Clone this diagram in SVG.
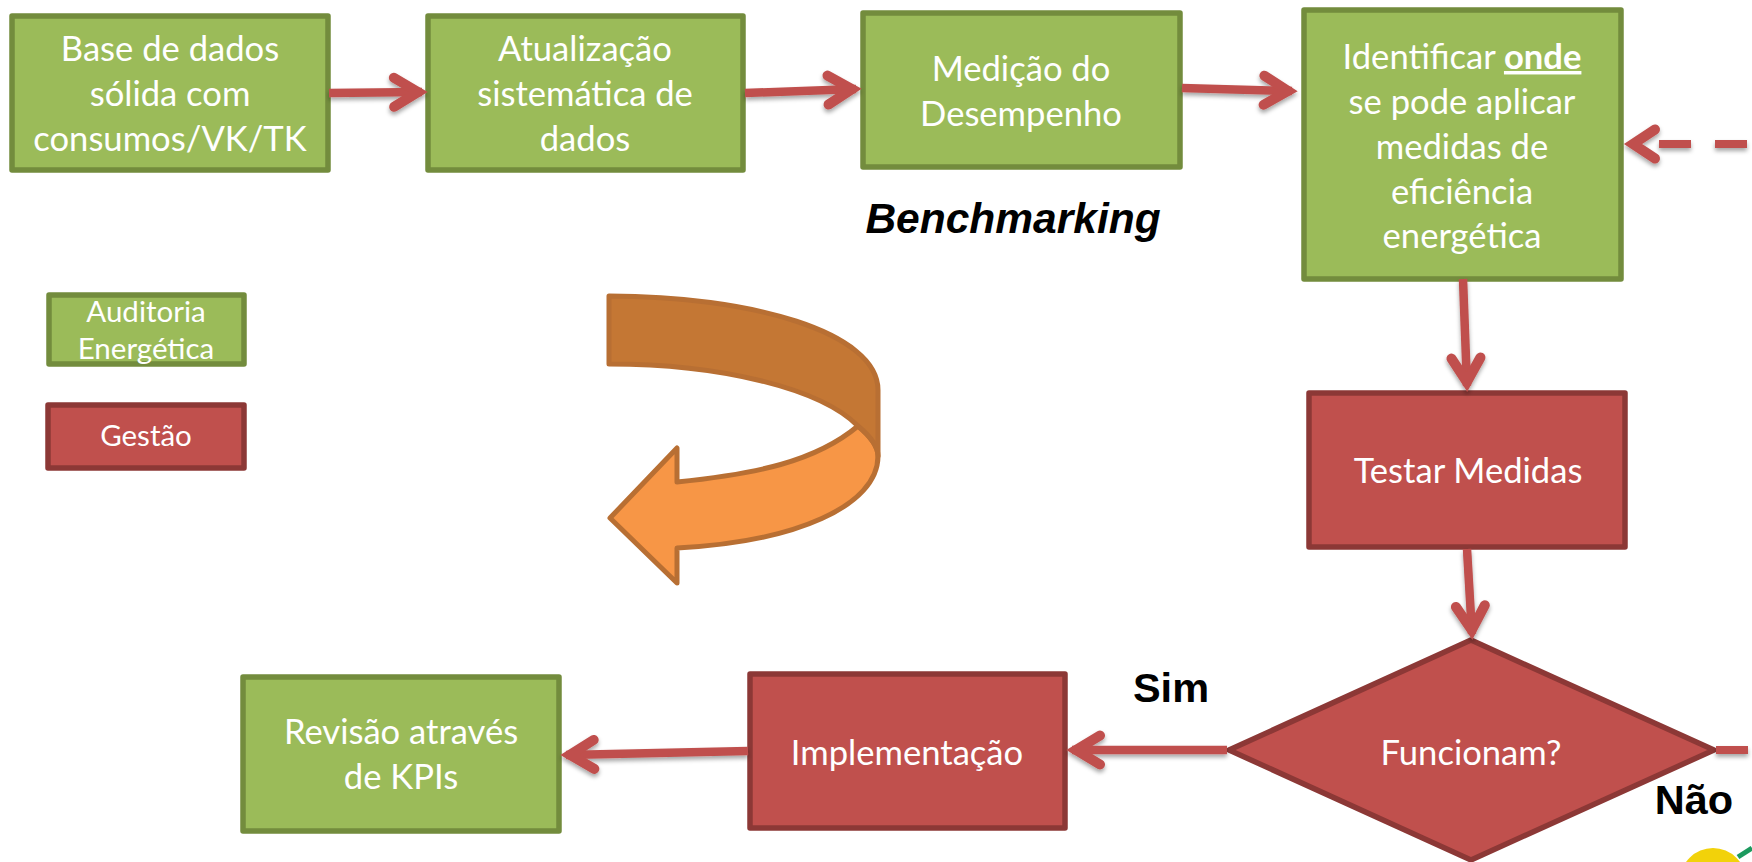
<svg xmlns="http://www.w3.org/2000/svg" width="1752" height="862" viewBox="0 0 1752 862">
<style>
text{font-family:"Lato","Noto Sans",sans-serif;fill:#fff;text-anchor:middle;font-size:34.6px}
.g{fill:#9bbb59;stroke:#738c3d;stroke-width:5.5;stroke-linejoin:round}
.r{fill:#c0504d;stroke:#8c3836;stroke-width:5.5;stroke-linejoin:round}
.c{fill:none;stroke:#c0504d;stroke-width:8.5;marker-end:url(#a)}
.b{font-family:"Liberation Sans",Arial,sans-serif;fill:#000;font-weight:700;font-size:41.5px}
.l{font-size:29.5px}
.o{stroke:#b86f33;stroke-width:5;stroke-linejoin:round}
</style>
<defs>
<marker id="a" markerUnits="userSpaceOnUse" markerWidth="56" markerHeight="56" refX="40" refY="28" orient="auto"><path d="M12,13.5 L36,28 L12,42.5" fill="none" stroke="#c0504d" stroke-width="10" stroke-linecap="round"/></marker>
<filter id="s" x="-20%" y="-20%" width="140%" height="140%"><feDropShadow dx="0" dy="3" stdDeviation="2" flood-color="#000" flood-opacity=".35"/></filter>
</defs>
<g id="base"><rect class="g" x="12" y="16" width="316" height="154"/><text x="170" y="61">Base de dados</text><text x="170" y="106">sólida com</text><text x="170" y="151">consumos/VK/TK</text></g>
<g id="atualizacao"><rect class="g" x="428" y="16" width="315" height="154"/><text x="585" y="61">Atualização</text><text x="585" y="106">sistemática de</text><text x="585" y="151">dados</text></g>
<g id="medicao"><rect class="g" x="863" y="13" width="317" height="154"/><text x="1021" y="81">Medição do</text><text x="1021" y="126">Desempenho</text></g>
<g id="identificar"><rect class="g" x="1304" y="10" width="317" height="269"/><text x="1462" y="69">Identificar <tspan font-weight="700" text-decoration="underline">onde</tspan></text><text x="1462" y="114">se pode aplicar</text><text x="1462" y="159">medidas de</text><text x="1462" y="204">eficiência</text><text x="1462" y="248">energética</text></g>
<g id="testar"><rect class="r" x="1309" y="393" width="316" height="154"/><text x="1468" y="483">Testar Medidas</text></g>
<g id="funcionam"><path class="r" d="M1471,640 L1714,750 L1471,860 L1229,750 Z"/><text x="1471" y="765">Funcionam?</text></g>
<g id="implementacao"><rect class="r" x="750" y="674" width="315" height="154"/><text x="907" y="765">Implementação</text></g>
<g id="revisao"><rect class="g" x="243" y="677" width="316" height="154"/><text x="401" y="744">Revisão através</text><text x="401" y="789">de KPIs</text></g>
<g id="legenda-auditoria"><rect class="g" x="49" y="295" width="195" height="69"/><text class="l" x="146" y="322">Auditoria</text><text class="l" x="146" y="359">Energética</text></g>
<g id="legenda-gestao"><rect class="r" x="48" y="405" width="196" height="63"/><text class="l" x="146" y="446">Gestão</text></g>
<g id="connectors" filter="url(#s)">
<path class="c" d="M329,93 L422,92"/>
<path class="c" d="M745,93 L856,89"/>
<path class="c" d="M1182,88 L1292,91"/>
<path d="M1747,144 L1659,144" fill="none" stroke="#c0504d" stroke-width="8" stroke-dasharray="32 24"/>
<path d="M1655,129.5 L1633,144 L1655,158.5" fill="none" stroke="#c0504d" stroke-width="10" stroke-linecap="round"/>
<path class="c" d="M1463,279 L1467,386"/>
<path class="c" d="M1467,549 L1472,634"/>
<path class="c" d="M1227,750 L1072,750"/>
<path class="c" d="M748,751 L566,755"/>
<path d="M1716,750 L1748,750" fill="none" stroke="#c0504d" stroke-width="8"/>
</g>
<g id="seta">
<path class="o" fill="#f79646" d="M610,518 L677,448 L677,482 C755,474 815,462 858,426 C870,436 878,446 878,456 C878,506 795,542 677,548 L677,583 Z"/>
<path class="o" fill="#c47734" d="M609,296 C750,296 878,332 878,390 L878,456 C878,446 870,436 858,426 C820,388 720,364 609,364 Z"/>
</g>
<text class="b" style="font-size:42.5px" x="1013" y="233" font-style="italic">Benchmarking</text>
<text class="b" x="1171" y="702">Sim</text>
<text class="b" x="1694" y="814">Não</text>
<g id="logo"><circle cx="1713" cy="881" r="33" fill="#f2d20a"/><path d="M1738,857 L1752,848" stroke="#1c9a5e" stroke-width="5" fill="none"/></g>
</svg>
